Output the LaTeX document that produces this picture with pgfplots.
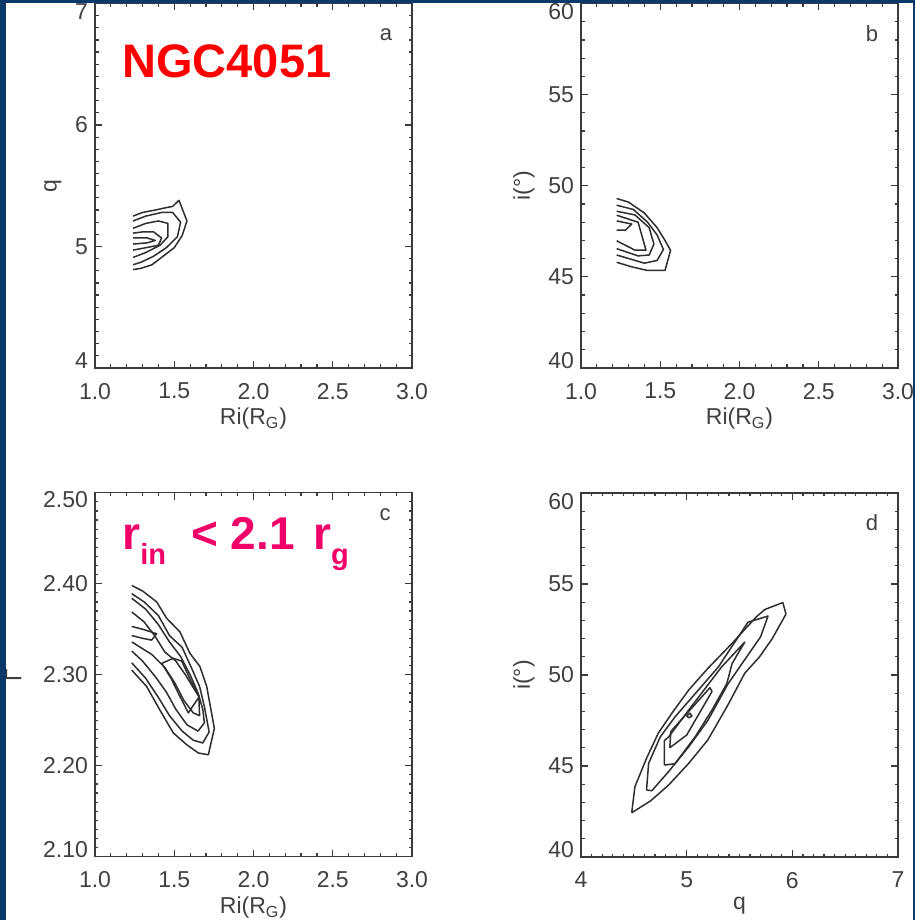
\documentclass[border=0pt]{standalone}
\usepackage{fontspec}
\setmainfont{Liberation Sans}
\usepackage{pgfplots}
\pgfplotsset{compat=1.18}
\definecolor{frameblue}{HTML}{0B3A6A}
\definecolor{axisgray}{HTML}{3A3A3A}
\definecolor{labelgray}{HTML}{404040}
\definecolor{ctrgray}{HTML}{2E2E2E}
\definecolor{titlered}{HTML}{FF0000}
\definecolor{rinpink}{HTML}{F2006A}

% shift a tick label glyph without moving its box
\newcommand{\tl}[2]{\raisebox{#1}[\height][\depth]{#2}}

% IDL-like box axes: ticks inside on all four sides
\pgfplotsset{
  idl/.style={
    scale only axis, width=158.5pt, height=182.25pt, anchor=south west,
    axis line style={axisgray, line width=0.6pt},
    every tick/.append style={axisgray, line width=0.6pt},
    major tick length=3.5pt, minor tick length=1.75pt,
    tick align=inside, xtick pos=both, ytick pos=both,
    xticklabel pos=lower, yticklabel pos=left,
    ticklabel style={font=\fontsize{11.5}{13}\selectfont, text=labelgray},
    xticklabel style={yshift=-4pt},
    label style={font=\fontsize{11.5}{13}\selectfont, text=labelgray},
    xlabel style={yshift=2.5pt},
    /pgf/number format/assume math mode=true,
  },
  onedec/.style={xticklabel style={/pgf/number format/fixed,
    /pgf/number format/fixed zerofill, /pgf/number format/precision=1}},
  ctr/.style={ctrgray, line width=0.75pt, line join=round, no marks},
}
\tikzset{plabel/.style={font=\fontsize{11}{12}\selectfont, text=labelgray}}

\begin{document}
\begin{tikzpicture}
\fill[white] (0,0) rectangle (457.5pt,460pt);

% ---- panel a: q vs Ri
\begin{axis}[idl, onedec, at={(47.5pt,276pt)},
  xmin=1, xmax=3, ymin=4, ymax=7,
  xtick={1,1.5,2,2.5,3}, minor x tick num=4,
  ytick={4,5,6,7}, yticklabels={\tl{3.5pt}{4},5,6,\tl{-4pt}{7}},
  minor y tick num=9,
  xlabel={Ri(R\textsubscript{G})}, ylabel={q}]
\addplot[ctr] coordinates {(1.24,5.25) (1.30,5.28) (1.38,5.30) (1.45,5.32) (1.49,5.33) (1.53,5.38) (1.58,5.21) (1.55,5.09) (1.50,4.99) (1.43,4.92) (1.36,4.85) (1.29,4.82) (1.24,4.81)};
\addplot[ctr] coordinates {(1.24,5.21) (1.32,5.25) (1.42,5.28) (1.49,5.28) (1.54,5.20) (1.52,5.08) (1.45,4.99) (1.37,4.92) (1.29,4.87) (1.24,4.85)};
\addplot[ctr] coordinates {(1.24,5.15) (1.32,5.19) (1.40,5.21) (1.46,5.19) (1.46,5.08) (1.41,5.01) (1.32,4.95) (1.24,4.91)};
\addplot[ctr] coordinates {(1.24,5.11) (1.30,5.12) (1.37,5.12) (1.42,5.07) (1.40,5.01) (1.32,4.99) (1.24,4.97)};
\addplot[ctr] coordinates {(1.24,5.07) (1.33,5.07) (1.38,5.05) (1.33,5.03) (1.24,5.02)};
\node[plabel] at (rel axis cs:0.918,0.914) {a};
\node[anchor=base west, inner sep=0pt, text=titlered,
  font=\fontsize{23.5}{24}\selectfont\bfseries] at (rel axis cs:0.085,0.798) {NGC4051};
\end{axis}

% ---- panel b: i vs Ri
\begin{axis}[idl, onedec, at={(290.5pt,276pt)},
  xmin=1, xmax=3, ymin=40, ymax=60,
  xtick={1,1.5,2,2.5,3}, minor x tick num=4,
  ytick={40,45,50,55,60}, yticklabels={\tl{3.5pt}{40},45,50,55,\tl{-4pt}{60}},
  minor y tick num=4,
  xlabel={Ri(R\textsubscript{G})}, ylabel={i(°)}]
\addplot[ctr] coordinates {(1.225,49.3) (1.30,49.1) (1.40,48.5) (1.48,47.7) (1.53,47.0) (1.565,46.45) (1.53,45.35) (1.42,45.35) (1.32,45.55) (1.225,45.8)};
\addplot[ctr] coordinates {(1.225,48.93) (1.33,48.7) (1.42,48.0) (1.48,47.3) (1.52,46.5) (1.48,45.9) (1.40,45.75) (1.225,46.2)};
\addplot[ctr] coordinates {(1.225,48.6) (1.34,48.4) (1.43,47.7) (1.46,46.8) (1.43,46.2) (1.36,46.15) (1.225,46.55)};
\addplot[ctr] coordinates {(1.225,48.38) (1.36,48.0) (1.41,46.47) (1.34,46.47) (1.225,46.98)};
\addplot[ctr] coordinates {(1.225,48.07) (1.32,47.9) (1.28,47.56) (1.225,47.56)};
\node[plabel] at (rel axis cs:0.918,0.916) {b};
\end{axis}

% ---- panel c: Gamma vs Ri
\begin{axis}[idl, onedec, at={(47.5pt,31.65pt)}, height=182pt,
  xmin=1, xmax=3, ymin=2.1, ymax=2.5,
  xtick={1,1.5,2,2.5,3}, minor x tick num=4,
  ytick={2.1,2.2,2.3,2.4,2.5},
  yticklabels={\tl{3.35pt}{2.10},2.20,2.30,2.40,\tl{-3.65pt}{2.50}},
  minor y tick num=9,
  xlabel={Ri(R\textsubscript{G})}, ylabel={Γ}, ylabel style={yshift=4pt}]
\addplot[ctr] coordinates {(1.232,2.398) (1.30,2.392) (1.389,2.380) (1.452,2.362) (1.536,2.347) (1.599,2.3235) (1.662,2.309) (1.705,2.287) (1.753,2.241) (1.715,2.212) (1.652,2.214) (1.579,2.223) (1.494,2.236) (1.410,2.261) (1.326,2.287) (1.232,2.305)};
\addplot[ctr] coordinates {(1.232,2.389) (1.31,2.380) (1.40,2.365) (1.47,2.343) (1.55,2.330) (1.61,2.307) (1.66,2.287) (1.69,2.265) (1.72,2.237) (1.68,2.225) (1.62,2.228) (1.55,2.238) (1.47,2.255) (1.40,2.275) (1.32,2.296) (1.232,2.313)};
\addplot[ctr] coordinates {(1.232,2.384) (1.32,2.372) (1.40,2.355) (1.47,2.336) (1.54,2.320) (1.60,2.300) (1.65,2.280) (1.68,2.262) (1.69,2.247) (1.65,2.238) (1.58,2.245) (1.51,2.262) (1.45,2.281) (1.38,2.298) (1.30,2.315) (1.232,2.326)};
\addplot[ctr] coordinates {(1.232,2.369) (1.31,2.358) (1.38,2.342) (1.44,2.325) (1.51,2.315) (1.57,2.300) (1.63,2.283) (1.655,2.276) (1.66,2.255) (1.62,2.258) (1.56,2.272) (1.50,2.292) (1.44,2.308) (1.36,2.322) (1.232,2.336)};
\addplot[ctr] coordinates {(1.232,2.353) (1.30,2.350) (1.389,2.345) (1.357,2.338) (1.30,2.340) (1.232,2.343)};
\addplot[ctr] coordinates {(1.421,2.3125) (1.494,2.318) (1.547,2.315) (1.60,2.295) (1.658,2.276) (1.589,2.258) (1.56,2.268) (1.536,2.276) (1.48,2.296) (1.421,2.3125)};
\node[plabel] at (rel axis cs:0.915,0.939) {c};
\node[anchor=base west, inner sep=0pt, text=rinpink,
  font=\fontsize{23}{24}\selectfont\bfseries] at (rel axis cs:0.085,0.8445)
  {r\raisebox{-7.8pt}{\fontsize{14.5}{15}\selectfont in}\hspace{0.55em}< 2.1\hspace{0.12em} r\raisebox{-7.5pt}{\fontsize{14.5}{15}\selectfont g}};
\end{axis}

% ---- panel d: i vs q
\begin{axis}[idl, at={(290.5pt,31.5pt)}, height=182pt,
  xmin=4, xmax=7, ymin=40, ymax=60,
  xtick={4,5,6,7}, minor x tick num=9,
  ytick={40,45,50,55,60}, yticklabels={\tl{3.5pt}{40},45,50,55,\tl{-4.3pt}{60}},
  minor y tick num=4,
  xlabel={q}, ylabel={i(°)}]
\addplot[ctr] coordinates {(4.48,42.43) (4.51,43.86) (4.62,45.42) (4.73,46.79) (4.86,47.9) (5.02,49.18) (5.20,50.36) (5.43,51.74) (5.66,53.2) (5.74,53.6) (5.91,53.98) (5.94,53.35) (5.81,52.0) (5.69,51.0) (5.55,50.1) (5.39,48.35) (5.20,46.43) (5.02,45.15) (4.83,43.96) (4.66,43.09) (4.48,42.43)};
\addplot[ctr] coordinates {(4.62,43.68) (4.64,45.15) (4.75,46.6) (4.89,47.7) (5.08,48.97) (5.30,50.44) (5.58,52.9) (5.77,53.24) (5.70,52.1) (5.58,51.1) (5.39,49.5) (5.20,47.5) (5.02,46.06) (4.83,44.7) (4.67,43.64) (4.62,43.68)};
\addplot[ctr] coordinates {(4.79,45.05) (4.79,46.4) (4.83,46.6) (5.02,48.08) (5.33,50.44) (5.55,51.81) (5.43,50.63) (5.38,49.53) (5.24,48.08) (5.08,46.6) (4.89,45.13) (4.79,45.05)};
\addplot[ctr] coordinates {(4.84,46.0) (4.85,46.9) (5.22,49.3) (5.24,49.1) (5.00,46.7) (4.84,46.0)};
\addplot[ctr] coordinates {(5.00,47.75) (5.03,47.9) (5.05,47.75) (5.02,47.65) (5.00,47.75)};
\node[plabel] at (rel axis cs:0.918,0.918) {d};
\end{axis}

% slide frame
\fill[frameblue] (0,0) rectangle (3pt,460pt);
\fill[frameblue] (0,458.5pt) rectangle (457.5pt,460pt);
\fill[frameblue] (456.5pt,0) rectangle (457.5pt,460pt);
\pgfresetboundingbox
\useasboundingbox (0,0) rectangle (457.5pt,460pt);
\end{tikzpicture}
\end{document}
